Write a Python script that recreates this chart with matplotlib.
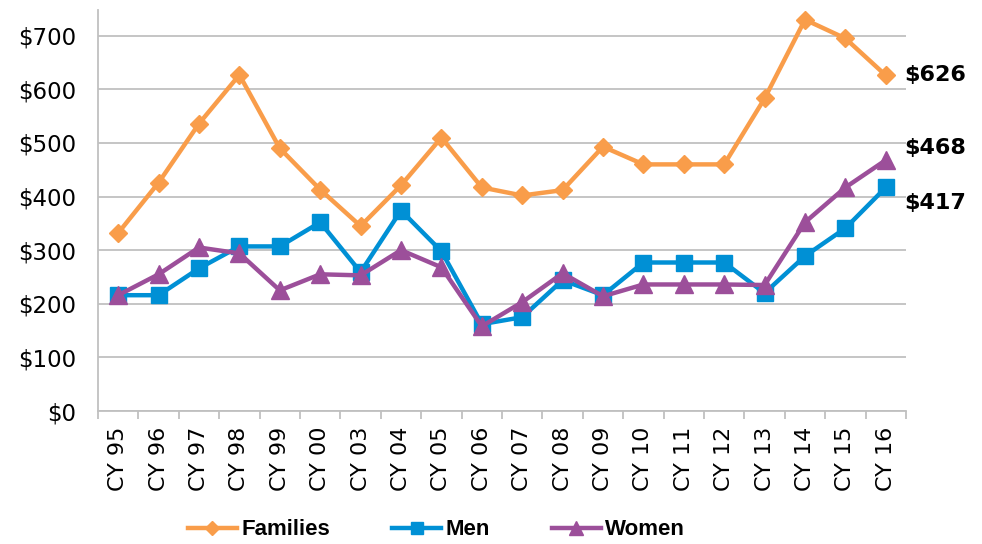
import matplotlib
import matplotlib.pyplot as plt
import numpy as np

matplotlib.use("Agg")

years = ["CY 95", "CY 96", "CY 97", "CY 98", "CY 99", "CY 00", "CY 03", "CY 04", "CY 05", "CY 06",
         "CY 07", "CY 08", "CY 09", "CY 10", "CY 11", "CY 12", "CY 13", "CY 14", "CY 15", "CY 16"]
families = [332, 426, 536, 627, 490, 413, 345, 421, 510, 417,
            402, 412, 493, 460, 460, 460, 583, 730, 695, 626]
men = [216, 216, 266, 307, 307, 352, 259, 374, 298, 162,
       175, 244, 216, 277, 277, 277, 220, 289, 341, 417]
women = [216, 255, 305, 294, 225, 255, 253, 300, 268, 158,
         203, 257, 214, 236, 236, 236, 235, 352, 417, 468]
y_ticks = [0, 100, 200, 300, 400, 500, 600, 700]

grid_col = "#C0C0C0"
series = [
    ("Families", families, "#F99D4A", "D", 9.5),
    ("Men", men, "#0090D5", "s", 12),
    ("Women", women, "#9C4F9A", "^", 13),
]

fig = plt.figure(figsize=(9.82, 5.44), dpi=100)
ax = fig.add_axes([98 / 982, 1 - 411 / 544, (906 - 98) / 982, (411 - 10) / 544])

x = np.arange(len(years))
handles = []
for name, vals, col, mk, ms in series:
    (h,) = ax.plot(x, vals, color=col, lw=3.2, marker=mk, markersize=ms,
                   markerfacecolor=col, markeredgecolor=col, label=name, zorder=3)
    handles.append(h)

ax.set_xlim(-0.5, len(years) - 0.5)
ax.set_ylim(0, 748)
ax.set_yticks(y_ticks)
ax.set_yticklabels([f"${v}" for v in y_ticks], fontsize=16.5, family="DejaVu Sans")
ax.tick_params(axis="y", length=0, pad=16)
ax.yaxis.grid(True, color=grid_col, lw=1.3)
ax.set_axisbelow(True)

ax.set_xticks(x)
ax.set_xticklabels(years, rotation=90, fontsize=16, family="DejaVu Sans")
ax.set_xticks(np.arange(-0.5, len(years)), minor=True)
ax.tick_params(axis="x", which="major", length=0, pad=11)
ax.tick_params(axis="x", which="minor", length=6, color=grid_col, width=1.3)

for side in ["top", "right"]:
    ax.spines[side].set_visible(False)
for side in ["left", "bottom"]:
    ax.spines[side].set_color(grid_col)
    ax.spines[side].set_linewidth(1.3)

# end-of-line value labels
last = len(years) - 1
for vals, dy in [(families, 0), (women, 9), (men, -11)]:
    ax.annotate(f"${vals[-1]}", xy=(last, vals[-1]), xytext=(13, dy), textcoords="offset points",
                ha="left", va="center", fontsize=16, fontweight="bold", family="DejaVu Sans",
                annotation_clip=False)

fig.legend(handles=handles, loc="center", bbox_to_anchor=(0.4445, 0.026), ncol=3, frameon=False,
           prop={"family": "Liberation Sans", "weight": "bold", "size": 16},
           handlelength=2.2, handletextpad=0.2, columnspacing=2.8, markerscale=0.75)

fig.savefig("out.png", dpi=100)
